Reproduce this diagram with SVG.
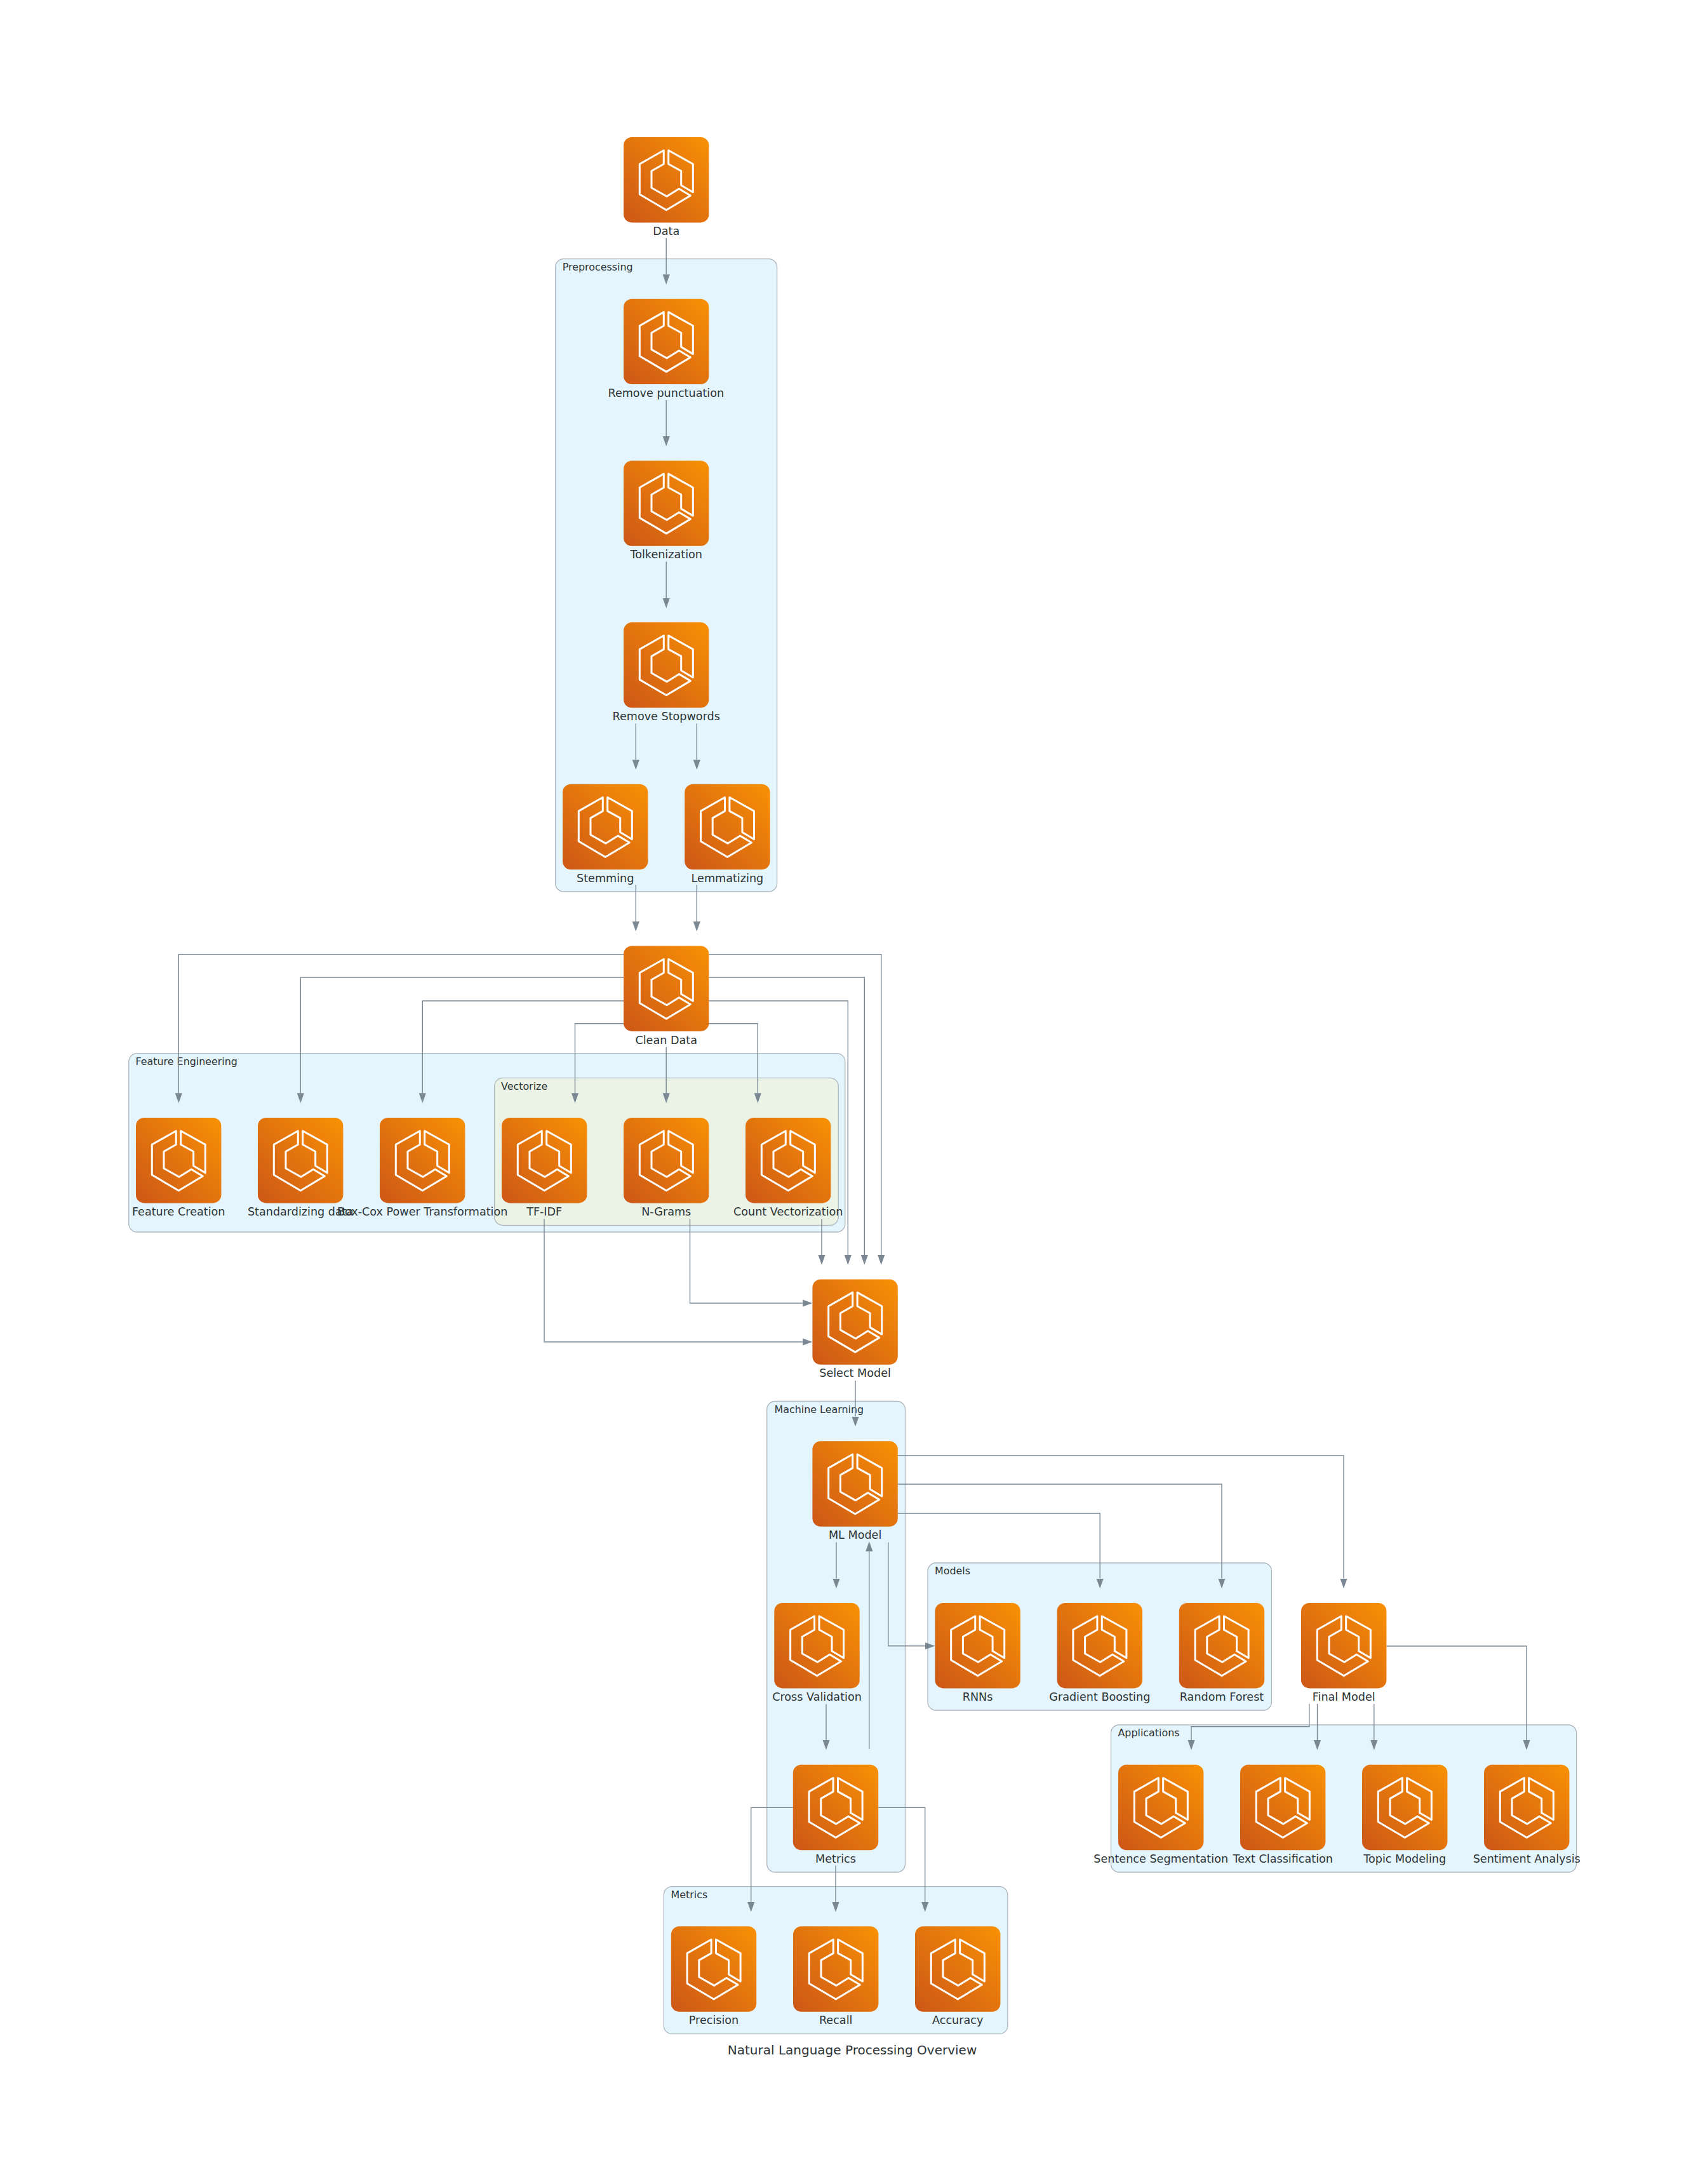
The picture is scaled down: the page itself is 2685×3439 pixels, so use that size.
<svg xmlns="http://www.w3.org/2000/svg" width="2685" height="3439" viewBox="0 0 2685 3439">
<style>
text{font-family:"DejaVu Sans",Verdana,sans-serif;fill:#2D3436}
.lbl{font-size:17.6px;text-anchor:middle}
.cl{font-size:15.9px}
.title{font-size:20px;text-anchor:middle}
.grp{fill:#E5F5FD;stroke:#AEB6BE;stroke-width:1.33}
.grp2{fill:#EBF3E7;stroke:#AEB6BE;stroke-width:1.33}
.e{fill:none;stroke:#7B8894;stroke-width:1.4;marker-end:url(#arr)}
</style>
<defs>
<linearGradient id="g" x1="0" y1="1" x2="1" y2="0"><stop offset="0" stop-color="#CC5717"/><stop offset="1" stop-color="#F99104"/></linearGradient>
<marker id="arr" markerUnits="userSpaceOnUse" markerWidth="17" markerHeight="13" viewBox="0 -6.5 17 13" refX="0" refY="0" orient="auto"><path d="M0,-5.6L15.7,0L0,5.6z" fill="#7B8894"/></marker>
<g id="icon">
<rect width="134.4" height="134.4" rx="13" fill="url(#g)"/>
<path d="M63.3,20.7L25.3,42.3V90L67.3,114.7L105.3,92L87.3,81.3L68,93.3L44,79.7V53.3L63.3,42.3zM70.7,20.7L109.3,42.3V86.7L90.7,75.7V53.3L70.7,42.3z" fill="none" stroke="#fff" stroke-width="3" stroke-linejoin="round"/>
</g>
</defs>
<rect width="2685" height="3439" fill="#fff"/>
<g id="clusters">
<g id="cluster-preprocessing"><rect class="grp" x="874.6" y="407.7" width="349" height="996.3" rx="13"/><text class="cl" x="885.7" y="426">Preprocessing</text></g>
<g id="cluster-feature-engineering"><rect class="grp" x="202.8" y="1658.7" width="1128" height="281.3" rx="13"/><text class="cl" x="213.5" y="1677">Feature Engineering</text></g>
<g id="cluster-vectorize"><rect class="grp2" x="778.7" y="1697.3" width="541.6" height="232" rx="13"/><text class="cl" x="789" y="1715.5">Vectorize</text></g>
<g id="cluster-machine-learning"><rect class="grp" x="1207.7" y="2206.5" width="217.8" height="741.5" rx="13"/><text class="cl" x="1219.5" y="2224.8">Machine Learning</text></g>
<g id="cluster-models"><rect class="grp" x="1461" y="2461" width="541.5" height="232" rx="13"/><text class="cl" x="1472" y="2479.3">Models</text></g>
<g id="cluster-applications"><rect class="grp" x="1749.5" y="2716" width="733.1" height="232" rx="13"/><text class="cl" x="1760.5" y="2734.3">Applications</text></g>
<g id="cluster-metrics"><rect class="grp" x="1045.3" y="2970.7" width="541.5" height="232" rx="13"/><text class="cl" x="1056.5" y="2989">Metrics</text></g>
</g>
<g id="nodes">
<g id="data"><use href="#icon" x="982" y="216"/><text class="lbl" x="1049.2" y="370">Data</text></g>
<g id="remove-punctuation"><use href="#icon" x="982" y="470.7"/><text class="lbl" x="1048.8" y="624.7">Remove punctuation</text></g>
<g id="tokenization"><use href="#icon" x="982" y="725.4"/><text class="lbl" x="1049.2" y="879.4">Tolkenization</text></g>
<g id="remove-stopwords"><use href="#icon" x="982" y="980.1"/><text class="lbl" x="1049.2" y="1134.1">Remove Stopwords</text></g>
<g id="stemming"><use href="#icon" x="886" y="1234.8"/><text class="lbl" x="953.2" y="1388.8">Stemming</text></g>
<g id="lemmatizing"><use href="#icon" x="1078.2" y="1234.8"/><text class="lbl" x="1145.4" y="1388.8">Lemmatizing</text></g>
<g id="clean-data"><use href="#icon" x="982" y="1489.5"/><text class="lbl" x="1049.2" y="1643.5">Clean Data</text></g>
<g id="feature-creation"><use href="#icon" x="214" y="1760"/><text class="lbl" x="281.2" y="1914">Feature Creation</text></g>
<g id="standardizing"><use href="#icon" x="406" y="1760"/><text class="lbl" x="473.2" y="1914">Standardizing data</text></g>
<g id="box-cox"><use href="#icon" x="598" y="1760"/><text class="lbl" x="665.2" y="1914">Box-Cox Power Transformation</text></g>
<g id="tf-idf"><use href="#icon" x="790" y="1760"/><text class="lbl" x="857.2" y="1914">TF-IDF</text></g>
<g id="n-grams"><use href="#icon" x="982" y="1760"/><text class="lbl" x="1049.2" y="1914">N-Grams</text></g>
<g id="count-vectorization"><use href="#icon" x="1174" y="1760"/><text class="lbl" x="1241.2" y="1914">Count Vectorization</text></g>
<g id="select-model"><use href="#icon" x="1279.4" y="2014.4"/><text class="lbl" x="1346.6" y="2168.4">Select Model</text></g>
<g id="ml-model"><use href="#icon" x="1279.4" y="2269.3"/><text class="lbl" x="1346.6" y="2423.3">ML Model</text></g>
<g id="cross-validation"><use href="#icon" x="1219.3" y="2524"/><text class="lbl" x="1286.5" y="2678">Cross Validation</text></g>
<g id="metrics"><use href="#icon" x="1248.8" y="2778.8"/><text class="lbl" x="1316" y="2932.8">Metrics</text></g>
<g id="rnns"><use href="#icon" x="1472.4" y="2524"/><text class="lbl" x="1539.6" y="2678">RNNs</text></g>
<g id="gradient-boosting"><use href="#icon" x="1664.6" y="2524"/><text class="lbl" x="1731.8" y="2678">Gradient Boosting</text></g>
<g id="random-forest"><use href="#icon" x="1856.8" y="2524"/><text class="lbl" x="1924" y="2678">Random Forest</text></g>
<g id="final-model"><use href="#icon" x="2049" y="2524"/><text class="lbl" x="2116.2" y="2678">Final Model</text></g>
<g id="sentence-segmentation"><use href="#icon" x="1761" y="2778.8"/><text class="lbl" x="1828.2" y="2932.8">Sentence Segmentation</text></g>
<g id="text-classification"><use href="#icon" x="1953" y="2778.8"/><text class="lbl" x="2020.2" y="2932.8">Text Classification</text></g>
<g id="topic-modeling"><use href="#icon" x="2145" y="2778.8"/><text class="lbl" x="2212.2" y="2932.8">Topic Modeling</text></g>
<g id="sentiment-analysis"><use href="#icon" x="2337" y="2778.8"/><text class="lbl" x="2404.2" y="2932.8">Sentiment Analysis</text></g>
<g id="precision"><use href="#icon" x="1056.8" y="3033.3"/><text class="lbl" x="1124" y="3187.3">Precision</text></g>
<g id="recall"><use href="#icon" x="1249" y="3033.3"/><text class="lbl" x="1316.2" y="3187.3">Recall</text></g>
<g id="accuracy"><use href="#icon" x="1441" y="3033.3"/><text class="lbl" x="1508.2" y="3187.3">Accuracy</text></g>
</g>
<g id="connectors">
<path class="e" d="M1049.2,375V432.3"/>
<path class="e" d="M1049.2,630V687"/>
<path class="e" d="M1049.2,884.6V941.8"/>
<path class="e" d="M1001.3,1139.3V1196.4"/>
<path class="e" d="M1097.3,1139.3V1196.4"/>
<path class="e" d="M1001.3,1393.3V1451"/>
<path class="e" d="M1097.3,1393.3V1451"/>
<path class="e" d="M982,1502.7H281.3V1721.3"/>
<path class="e" d="M982,1539H473.3V1721.3"/>
<path class="e" d="M982,1576H665.3V1721.3"/>
<path class="e" d="M982,1611.7H905.5V1721.3"/>
<path class="e" d="M1049.2,1648.7V1721.3"/>
<path class="e" d="M1116.4,1611.7H1193.3V1721.3"/>
<path class="e" d="M1116.4,1502.7H1387.7V1976"/>
<path class="e" d="M1116.4,1539H1361.3V1976"/>
<path class="e" d="M1116.4,1576H1335.3V1976"/>
<path class="e" d="M1294,1919.3V1976"/>
<path class="e" d="M1086.5,1919.3V2052H1263.7"/>
<path class="e" d="M857,1919.3V2113H1263.7"/>
<path class="e" d="M1347,2174V2230.6"/>
<path class="e" d="M1413.8,2292H2116V2485.6"/>
<path class="e" d="M1413.8,2337H1924V2485.6"/>
<path class="e" d="M1413.8,2383H1732.2V2485.6"/>
<path class="e" d="M1317,2428.5V2485.6"/>
<path class="e" d="M1398.8,2428.5V2591.7H1456.7"/>
<path class="e" d="M1368.8,2754V2442.7"/>
<path class="e" d="M1301,2683.6V2739.8"/>
<path class="e" d="M1248.8,2846.3H1182.7V2995"/>
<path class="e" d="M1316,2937.6V2995"/>
<path class="e" d="M1383.2,2846.3H1456.7V2995"/>
<path class="e" d="M2061.7,2683V2718.7H1876V2740"/>
<path class="e" d="M2074.5,2683V2740"/>
<path class="e" d="M2163.8,2683V2740"/>
<path class="e" d="M2183.4,2592H2404V2740"/>
</g>
<text class="title" x="1342" y="3235">Natural Language Processing Overview</text>
</svg>
